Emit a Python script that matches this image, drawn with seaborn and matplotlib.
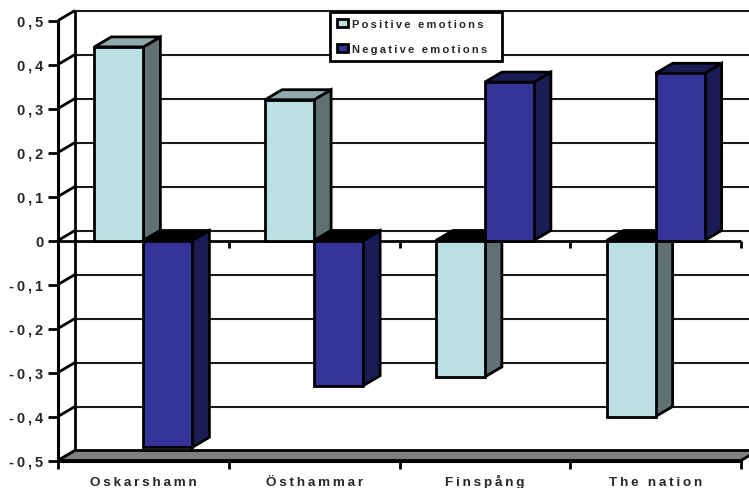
import matplotlib
matplotlib.use("Agg")
import matplotlib.pyplot as plt
import pandas as pd
import seaborn as sns
from matplotlib.patches import Polygon

categories = ["Oskarshamn", "Östhammar", "Finspång", "The nation"]
positive = [0.44, 0.32, -0.31, -0.40]
negative = [-0.47, -0.33, 0.36, 0.38]
series_names = ["Positive emotions", "Negative emotions"]
yticks = [-0.5, -0.4, -0.3, -0.2, -0.1, 0, 0.1, 0.2, 0.3, 0.4, 0.5]
ylabels = ["-0,5", "-0,4", "-0,3", "-0,2", "-0,1", "0", "0,1", "0,2", "0,3", "0,4", "0,5"]

PW, PH = 749, 489
HAIR = "\u2009"
LW = 2.0


def spaced(s):
    # the original has wide letter spacing
    return HAIR.join(s)


sns.set_theme(style="white")
plt.rcParams["font.family"] = ["Liberation Sans", "DejaVu Sans"]
plt.rcParams["font.weight"] = "bold"

df = pd.DataFrame({
    "place": categories * 2,
    "value": positive + negative,
    "series": [series_names[0]] * 4 + [series_names[1]] * 4,
})

colors = {series_names[0]: "#BAE0E3", series_names[1]: "#333399"}
side_colors = {series_names[0]: "#5F7172", series_names[1]: "#1C1C54"}
top_colors = {series_names[0]: "#8FA9AC", series_names[1]: "#1C1C54"}

fig = plt.figure(figsize=(PW / 100, PH / 100), dpi=100)
ax = fig.add_axes([58 / PW, 1 - 461.5 / PH, 683 / PW, 440 / PH])

sns.barplot(data=df, x="place", y="value", hue="series", hue_order=series_names,
            palette=colors, width=0.574, gap=0, dodge=True, saturation=1,
            edgecolor="black", linewidth=LW, ax=ax, zorder=5)
ax.set_xlim(-0.5, 3.5)
ax.set_ylim(-0.5, 0.5)
ax.set_xlabel("")
ax.set_ylabel("")

# depth of the fake 3d box, in data units
dx = 17 / (683 / 4)
dy = 10 / 440

line = dict(color="black", lw=LW, clip_on=False, solid_capstyle="butt")
for y in yticks:
    ax.plot([-0.5, -0.5 + dx], [y, y + dy], **line, zorder=2)
    ax.plot([-0.5 + dx, 3.5 + dx], [y + dy, y + dy], color="#1a1a1a", lw=1.5,
            clip_on=False, zorder=2)

# back wall + floor
ax.plot([-0.5 + dx, -0.5 + dx], [-0.5 + dy, 0.5 + dy], **line, zorder=2)
ax.add_patch(Polygon([(-0.5, -0.5), (-0.5 + dx, -0.5 + dy), (3.5 + dx, -0.5 + dy), (3.5, -0.5)],
                     closed=True, fc="#808080", ec="black", lw=LW, clip_on=False, zorder=3))

# front zero line with its ticks
ax.plot([-0.5, 3.5], [0, 0], **line, zorder=3)
boundaries = [-0.5, 0.5, 1.5, 2.5, 3.5]
ax.vlines(boundaries, -0.016, 0, color="black", lw=LW, clip_on=False, zorder=3)

# side and top faces of every bar, taken from the bars seaborn drew
for container, name in zip(ax.containers, series_names):
    for bar, val in zip(container, container.datavalues):
        x0 = bar.get_x()
        x1 = x0 + bar.get_width()
        y0, y1 = min(0, val), max(0, val)
        ax.add_patch(Polygon([(x1, y0), (x1 + dx, y0 + dy), (x1 + dx, y1 + dy), (x1, y1)],
                             closed=True, fc=side_colors[name], ec="black", lw=LW,
                             clip_on=False, zorder=4))
        top_color = top_colors[name] if val > 0 else "black"
        ax.add_patch(Polygon([(x0, y1), (x0 + dx, y1 + dy), (x1 + dx, y1 + dy), (x1, y1)],
                             closed=True, fc=top_color, ec="black", lw=LW,
                             clip_on=False, zorder=4))

for s in ["top", "right"]:
    ax.spines[s].set_visible(False)
for s in ["left", "bottom"]:
    ax.spines[s].set_color("black")
    ax.spines[s].set_linewidth(LW + 0.2)
    ax.spines[s].set_zorder(6)

ax.set_yticks(yticks)
ax.set_yticklabels([spaced(t) for t in ylabels], fontsize=10.5, fontweight="bold")
ax.tick_params(axis="y", length=7, width=LW, color="black", left=True, pad=3.5)

# ticks on the boundaries, labels in the middle
ax.set_xticks(boundaries)
ax.set_xticklabels([])
ax.set_xticks([0, 1, 2, 3], minor=True)
ax.set_xticklabels([spaced(c) for c in categories], minor=True, fontsize=9.7, fontweight="bold",
                   va="baseline")
ax.tick_params(axis="x", which="major", length=5.5, width=LW, color="black", bottom=True)
ax.tick_params(axis="x", which="minor", length=0, pad=17.5)

handles, labels = ax.get_legend_handles_labels()
leg = ax.legend(handles, [spaced(t) for t in labels], loc="upper left",
                bbox_to_anchor=(330 / PW, 1 - 59.5 / PH, 172 / PW, 47 / PH),
                bbox_transform=fig.transFigure, mode="expand",
                prop={"size": 8, "weight": "bold"}, frameon=True, fancybox=False,
                edgecolor="black", facecolor="white", framealpha=1, borderaxespad=0,
                handlelength=0.95, handleheight=0.8, handletextpad=0.35, labelspacing=1.35,
                borderpad=0.65)
leg.get_frame().set_linewidth(LW)
for h in leg.get_patches():
    h.set_linewidth(LW)
leg.set_zorder(10)

fig.savefig("out.png", dpi=100)
